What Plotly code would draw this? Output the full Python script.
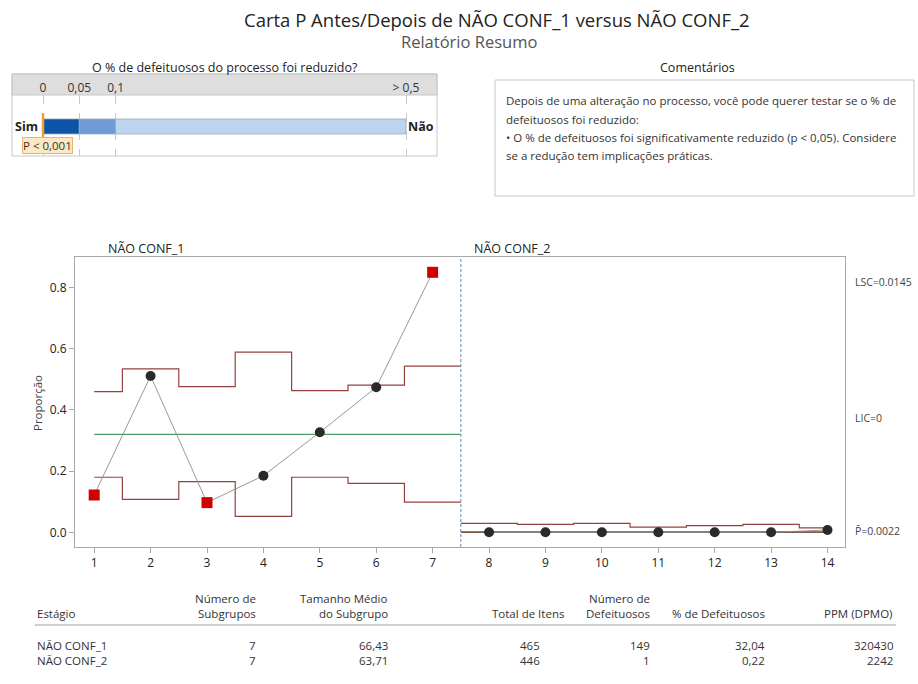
import plotly.graph_objects as go

W, H = 918, 684
FONT = "Open Sans"

# ---------------- data ----------------
subgroups_1 = [1, 2, 3, 4, 5, 6, 7]
subgroups_2 = [8, 9, 10, 11, 12, 13, 14]
prop_1 = [0.122, 0.511, 0.097, 0.185, 0.327, 0.474, 0.850]
prop_2 = [0.0, 0.0, 0.0, 0.0, 0.0, 0.0, 0.0077]
ucl_1 = [0.460, 0.534, 0.476, 0.589, 0.463, 0.481, 0.543]
lcl_1 = [0.180, 0.108, 0.166, 0.052, 0.180, 0.160, 0.099]
ucl_2 = [0.029, 0.026, 0.029, 0.017, 0.0216, 0.026, 0.0145]
lcl_2 = [0.0, 0.0, 0.0, 0.0, 0.0, 0.0, 0.0]
center_1 = 0.3204
center_2 = 0.0022
stage_names = ["NÃO CONF_1", "NÃO CONF_2"]
y_ticks = [0.0, 0.2, 0.4, 0.6, 0.8]

limit_labels = ["LSC=0.0145", "LIC=0", "P\u0304=0.0022"]

scale_pos = [0, 1, 2, 10]
scale_labels = ["0", "0,05", "0,1", "> 0,5"]
pvalue_pos = 0
pvalue_label = "P < 0,001"

comment_lines = [
    "Depois de uma alteração no processo, você pode querer testar se o % de",
    "defeituosos foi reduzido:",
    "• O % de defeituosos foi significativamente reduzido (p < 0,05). Considere",
    "se a redução tem implicações práticas.",
]

table_stage = ["NÃO CONF_1", "NÃO CONF_2"]
table_nsub = ["7", "7"]
table_avg = ["66,43", "63,71"]
table_total = ["465", "446"]
table_ndef = ["149", "1"]
table_pct = ["32,04", "0,22"]
table_ppm = ["320430", "2242"]

# ---------------- helpers ----------------
def px_x(p):
    return p / W

def px_y(p):
    return 1 - p / H

fig = go.Figure()

UCOL = "#944240"
GCOL = "#4E9E60"

def step_xy(xs, vals, start, end):
    bx = [start] + [x + 0.5 for x in xs[:-1]] + [end]
    by = list(vals) + [vals[-1]]
    return bx, by

stages = [
    (subgroups_1, prop_1, ucl_1, lcl_1, center_1, subgroups_1[0], subgroups_1[-1] + 0.5),
    (subgroups_2, prop_2, ucl_2, lcl_2, center_2, subgroups_2[0] - 0.5, subgroups_2[-1]),
]

for xs, ps, ucl, lcl, cen, st, en in stages:
    bx, by = step_xy(xs, lcl, st, en)
    fig.add_trace(go.Scatter(x=bx, y=by, mode="lines", line=dict(color=UCOL, width=1.2, shape="hv"),
                             hoverinfo="skip", showlegend=False))
    bx, by = step_xy(xs, ucl, st, en)
    fig.add_trace(go.Scatter(x=bx, y=by, mode="lines", line=dict(color=UCOL, width=1.2, shape="hv"),
                             hoverinfo="skip", showlegend=False))
    fig.add_trace(go.Scatter(x=[st, en], y=[cen, cen], mode="lines", line=dict(color=GCOL, width=1.3),
                             hoverinfo="skip", showlegend=False))
    fig.add_trace(go.Scatter(x=xs, y=ps, mode="lines", line=dict(color="#8C8C8C", width=0.9),
                             hoverinfo="skip", showlegend=False))
    inside = [(l <= p <= u) for p, u, l in zip(ps, ucl, lcl)]
    ok_x = [x for x, k in zip(xs, inside) if k]
    ok_y = [p for p, k in zip(ps, inside) if k]
    out_x = [x for x, k in zip(xs, inside) if not k]
    out_y = [p for p, k in zip(ps, inside) if not k]
    fig.add_trace(go.Scatter(x=ok_x, y=ok_y, mode="markers",
                             marker=dict(symbol="circle", size=10, color="#2A2A2A"),
                             showlegend=False))
    fig.add_trace(go.Scatter(x=out_x, y=out_y, mode="markers",
                             marker=dict(symbol="square", size=11, color="#D10000"),
                             showlegend=False))

# stage divider
fig.add_shape(type="line", xref="x", yref="y domain", x0=subgroups_1[-1] + 0.5, x1=subgroups_1[-1] + 0.5,
              y0=0, y1=1, line=dict(color="#5A8DB5", width=1, dash="3px,2px"))

# ---------------- top-left bar (x2/y2) ----------------
seg_colors = ["#0B54A8", "#6F9CD6", "#BDD5EE"]
bar_y = 0.484
for i in range(3):
    fig.add_trace(go.Bar(x=[scale_pos[i + 1] - scale_pos[i]], base=[scale_pos[i]], y=[bar_y],
                         orientation="h", width=0.246, xaxis="x2", yaxis="y2",
                         marker=dict(color=seg_colors[i], line=dict(color="#9AA8B6", width=0.8)),
                         showlegend=False, hoverinfo="skip"))

fig.add_shape(type="line", xref="x2", yref="y2", x0=pvalue_pos, x1=pvalue_pos, y0=0.262, y1=0.705,
              line=dict(color="#F0A030", width=2.5))

# panel box and band
fig.add_shape(type="rect", xref="paper", yref="paper", x0=px_x(12), x1=px_x(437), y0=px_y(74), y1=px_y(95),
              fillcolor="#DEDEDE", line=dict(color="#C8C8C8", width=1), layer="below")
fig.add_shape(type="rect", xref="paper", yref="paper", x0=px_x(12), x1=px_x(437), y0=px_y(74), y1=px_y(156),
              fillcolor="rgba(0,0,0,0)", line=dict(color="#C8C8C8", width=1), layer="below")

# comments box
fig.add_shape(type="rect", xref="paper", yref="paper", x0=px_x(495), x1=px_x(914), y0=px_y(80), y1=px_y(196),
              fillcolor="rgba(0,0,0,0)", line=dict(color="#C8C8C8", width=1))

# table rule
fig.add_shape(type="line", xref="paper", yref="paper", x0=px_x(35), x1=px_x(896), y0=px_y(625), y1=px_y(625),
              line=dict(color="#A0A0A0", width=1))

ann = []

def A(text, x, y, size=11, color="#333333", xanchor="center", yanchor="middle", **kw):
    ann.append(dict(text=text, x=px_x(x), y=px_y(y), xref="paper", yref="paper", showarrow=False,
                    font=dict(family=FONT, size=size, color=color), xanchor=xanchor, yanchor=yanchor, **kw))

A("Carta P Antes/Depois de NÃO CONF_1 versus NÃO CONF_2", 497, 20, size=18.5, color="#222222")
A("Relatório Resumo", 469, 41, size=16.5, color="#555555")
A("O % de defeituosos do processo foi reduzido?", 225, 67, size=12.5, color="#222222")
A("Comentários", 697, 67, size=12.5, color="#222222")

A("<b>Sim</b>", 13, 127, size=12.5, color="#222222", xanchor="left")
A("<b>Não</b>", 436, 127, size=12.5, color="#222222", xanchor="right")

ann.append(dict(text=pvalue_label, x=pvalue_pos + 0.124, y=0.164, xref="x2", yref="y2", showarrow=False,
                font=dict(family=FONT, size=11.5, color="#333333"), bgcolor="#FCE8C2",
                bordercolor="#E9B765", borderwidth=1, borderpad=0, xanchor="center", yanchor="middle"))

for i, line in enumerate(comment_lines):
    A(line, 504, 101 + i * 18, size=11.5, color="#333333", xanchor="left")

A(stage_names[0], 106, 248, size=12.5, color="#222222", xanchor="left")
A(stage_names[1], 472, 248, size=12.5, color="#222222", xanchor="left")

A(limit_labels[0], 853, 282, size=10.5, color="#444444", xanchor="left")
A(limit_labels[1], 853, 418, size=10.5, color="#444444", xanchor="left")
A(limit_labels[2], 853, 531, size=10.5, color="#444444", xanchor="left")

ann.append(dict(text="Proporção", x=px_x(37), y=px_y(403), xref="paper", yref="paper", showarrow=False,
                textangle=-90, font=dict(family=FONT, size=11.5, color="#444444"),
                xanchor="center", yanchor="middle"))

# table
TS = 11.5
L1, L2, R1, R2 = 598, 613, 645, 660
A("Estágio", 35, L2, size=TS, xanchor="left")
A("Número de", 258, L1, size=TS, xanchor="right")
A("Subgrupos", 258, L2, size=TS, xanchor="right")
A("Tamanho Médio", 390, L1, size=TS, xanchor="right")
A("do Subgrupo", 390, L2, size=TS, xanchor="right")
A("Total de Itens", 528, L2, size=TS, xanchor="center")
A("Número de", 652, L1, size=TS, xanchor="right")
A("Defeituosos", 652, L2, size=TS, xanchor="right")
A("% de Defeituosos", 767, L2, size=TS, xanchor="right")
A("PPM (DPMO)", 895, L2, size=TS, xanchor="right")
for r, yy in enumerate([R1, R2]):
    A(table_stage[r], 35, yy, size=TS, xanchor="left")
    A(table_nsub[r], 258, yy, size=TS, xanchor="right")
    A(table_avg[r], 390, yy, size=TS, xanchor="right")
    A(table_total[r], 530, yy, size=TS, xanchor="center")
    A(table_ndef[r], 652, yy, size=TS, xanchor="right")
    A(table_pct[r], 767, yy, size=TS, xanchor="right")
    A(table_ppm[r], 895, yy, size=TS, xanchor="right")

axis_common = dict(showline=True, mirror=True, linecolor="#A8A8A8", linewidth=1, ticks="outside",
                   ticklen=5, tickcolor="#A8A8A8", showgrid=False, zeroline=False,
                   tickfont=dict(family=FONT, size=12, color="#222222"))

fig.update_layout(
    width=W, height=H, margin=dict(l=0, r=0, t=0, b=0),
    paper_bgcolor="white", plot_bgcolor="white",
    font=dict(family=FONT),
    barmode="overlay",
    showlegend=False,
    xaxis=dict(domain=[px_x(75), px_x(845)], range=[0.66, 14.31],
               tickvals=subgroups_1 + subgroups_2, **axis_common),
    yaxis=dict(domain=[px_y(547), px_y(257)], range=[-0.048, 0.90],
               tickvals=y_ticks, tickformat=".1f", **axis_common),
    xaxis2=dict(domain=[px_x(12), px_x(437)], range=[-0.854, 10.854], anchor="y2",
                side="top", tickvals=scale_pos, ticktext=scale_labels, ticks="",
                showgrid=True, gridcolor="#C8C8C8", griddash="dash", gridwidth=1, zeroline=False,
                showline=False, tickfont=dict(family=FONT, size=12, color="#333333")),
    yaxis2=dict(domain=[px_y(156), px_y(95)], range=[0, 1], anchor="x2", showgrid=False,
                zeroline=False, showticklabels=False, ticks="", showline=False),
    annotations=ann,
)

fig.write_html("out.html", config={"displayModeBar": False},
               post_script="document.body.style.margin='0px';document.body.style.overflow='hidden';")
